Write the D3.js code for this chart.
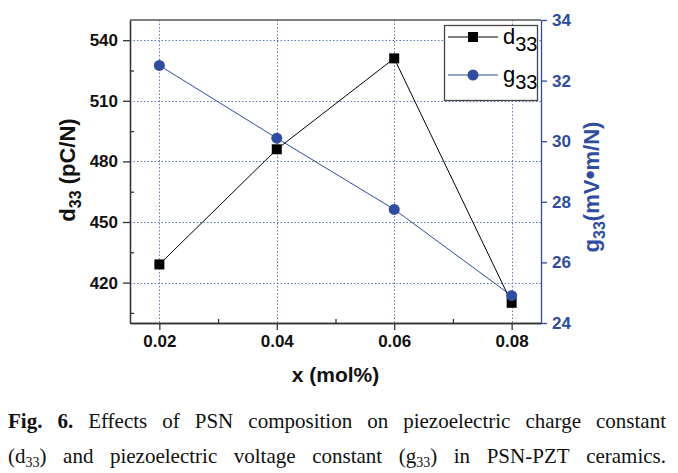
<!DOCTYPE html>
<html><head><meta charset="utf-8">
<script src="https://cdn.jsdelivr.net/npm/d3@7"></script>
<style>
body{margin:0;background:#fff;}
svg{display:block;font-family:"Liberation Sans",Arial,sans-serif;}
</style></head>
<body>
<svg id="chart" width="678" height="473"></svg>
<script>
// ---- data ----
const xValues = [0.02, 0.04, 0.06, 0.08];
const d33Values = [429, 486, 531, 410];
const g33Values = [32.5, 30.1, 27.75, 24.9];
const xTicks = [0.02, 0.04, 0.06, 0.08];
const xMinorTicks = [0.03, 0.05, 0.07];
const leftTicks = [420, 450, 480, 510, 540];
const leftMinorTicks = [405, 435, 465, 495, 525];
const rightTicks = [24, 26, 28, 30, 32, 34];

const BLUE = "#2f4c9e";
const GRID = "#5a78bb";
const svg = d3.select("#chart");
const L = 130, R = 541, T = 20, B = 323;

const x = d3.scaleLinear().domain([0.015, 0.085]).range([L, R]);
const yL = d3.scaleLinear().domain([400, 550]).range([B, T]);
const yR = d3.scaleLinear().domain([24, 34]).range([B, T]);

// grid
const grid = svg.append("g").attr("stroke", GRID).attr("stroke-width", 1).attr("stroke-dasharray", "1.5,2");
grid.selectAll("line.v").data(xTicks).join("line")
  .attr("x1", d => Math.round(x(d)) + 0.5).attr("x2", d => Math.round(x(d)) + 0.5)
  .attr("y1", T).attr("y2", B);
grid.selectAll("line.h").data(leftTicks).join("line")
  .attr("y1", d => Math.round(yL(d)) + 0.5).attr("y2", d => Math.round(yL(d)) + 0.5)
  .attr("x1", L).attr("x2", R);

// axes
const fmtX = d3.format(".2f");
const gx = svg.append("g").attr("transform", `translate(0,${B})`)
  .call(d3.axisBottom(x).tickValues(xTicks).tickFormat(fmtX).tickSize(7).tickSizeOuter(0).tickPadding(5));
const gxm = svg.append("g").attr("transform", `translate(0,${B})`)
  .call(d3.axisBottom(x).tickValues(xMinorTicks).tickFormat("").tickSize(-4).tickSizeOuter(0));
const gl = svg.append("g").attr("transform", `translate(${L},0)`)
  .call(d3.axisLeft(yL).tickValues(leftTicks).tickSize(7).tickSizeOuter(0).tickPadding(5));
const glm = svg.append("g").attr("transform", `translate(${L},0)`)
  .call(d3.axisLeft(yL).tickValues(leftMinorTicks).tickFormat("").tickSize(-4).tickSizeOuter(0));
const gr = svg.append("g").attr("transform", `translate(${R},0)`)
  .call(d3.axisRight(yR).tickValues(rightTicks).tickSize(6).tickSizeOuter(0).tickPadding(5));

[gx, gxm, gl, glm].forEach(g => {
  g.selectAll("path,line").attr("stroke", "#333").attr("stroke-width", 1.3);
  g.selectAll("text").attr("fill", "#111").attr("font-size", 17).attr("font-weight", "bold")
    .attr("font-family", "'Liberation Sans',Arial,sans-serif");
});
gr.selectAll("path,line").attr("stroke", BLUE).attr("stroke-width", 1.3);
gr.selectAll("text").attr("fill", BLUE).attr("font-size", 17).attr("font-weight", "bold")
  .attr("font-family", "'Liberation Sans',Arial,sans-serif");

// top frame
svg.append("line").attr("x1", L).attr("x2", R).attr("y1", T).attr("y2", T)
  .attr("stroke", "#555").attr("stroke-width", 1.3);

// lines
const lineL = d3.line().x((d, i) => x(xValues[i])).y(d => yL(d));
const lineR = d3.line().x((d, i) => x(xValues[i])).y(d => yR(d));
svg.append("path").datum(g33Values).attr("d", lineR).attr("fill", "none").attr("stroke", BLUE).attr("stroke-width", 1);
svg.append("path").datum(d33Values).attr("d", lineL).attr("fill", "none").attr("stroke", "#000").attr("stroke-width", 1);

// markers
const S = 10;
svg.append("g").selectAll("rect").data(d33Values).join("rect")
  .attr("x", (d, i) => x(xValues[i]) - S / 2).attr("y", d => yL(d) - S / 2)
  .attr("width", S).attr("height", S).attr("fill", "#000");
svg.append("g").selectAll("circle").data(g33Values).join("circle")
  .attr("cx", (d, i) => x(xValues[i])).attr("cy", d => yR(d)).attr("r", 5.5).attr("fill", BLUE);

// axis titles
const tl = svg.append("text").attr("transform", "translate(75,170) rotate(-90)")
  .attr("text-anchor", "middle").attr("font-size", 22).attr("font-weight", "bold").attr("fill", "#111");
tl.append("tspan").text("d");
tl.append("tspan").attr("font-size", 16).attr("dy", 6).text("33");
tl.append("tspan").attr("dy", -6).text(" (pC/N)");

const tr = svg.append("text").attr("transform", "translate(599,187) rotate(-90)")
  .attr("text-anchor", "middle").attr("font-size", 22).attr("font-weight", "bold").attr("fill", BLUE);
tr.append("tspan").text("g");
tr.append("tspan").attr("font-size", 16).attr("dy", 6).text("33");
tr.append("tspan").attr("dy", -6).text("(mV");
tr.append("tspan").attr("font-size", 26).text("\u2022");
tr.append("tspan").text("m/N)");

svg.append("text").attr("x", x(0.05)).attr("y", 382).attr("text-anchor", "middle")
  .attr("font-size", 21).attr("font-weight", "bold").attr("fill", "#111").text("x (mol%)");

// legend
const lg = svg.append("g");
lg.append("rect").attr("x", 444.5).attr("y", 25.5).attr("width", 93).attr("height", 75)
  .attr("fill", "#fff").attr("stroke", "#444").attr("stroke-width", 1.3);
const legItems = [
  {name: "d", color: "#000", shape: "rect", y: 37},
  {name: "g", color: BLUE, shape: "circle", y: 75}
];
legItems.forEach(it => {
  lg.append("line").attr("x1", 448).attr("x2", 498).attr("y1", it.y).attr("y2", it.y)
    .attr("stroke", it.color).attr("stroke-width", 1);
  if (it.shape === "rect") {
    lg.append("rect").attr("x", 473 - 5).attr("y", it.y - 5).attr("width", 10).attr("height", 10).attr("fill", it.color);
  } else {
    lg.append("circle").attr("cx", 473).attr("cy", it.y).attr("r", 5.5).attr("fill", it.color);
  }
  const t = lg.append("text").attr("x", 503).attr("y", it.y + 7).attr("font-size", 22)
    .attr("font-weight", 500).attr("fill", "#000");
  t.append("tspan").text(it.name);
  t.append("tspan").attr("font-size", 20).attr("dy", 7).text("33");
});

// caption (justified)
const capLines = [
  {y: 428, words: [
    [{t: "Fig.", b: true}], [{t: "6.", b: true}], [{t: "Effects"}], [{t: "of"}], [{t: "PSN"}],
    [{t: "composition"}], [{t: "on"}], [{t: "piezoelectric"}], [{t: "charge"}], [{t: "constant"}]
  ]},
  {y: 463, words: [
    [{t: "(d"}, {t: "33", s: true}, {t: ")"}], [{t: "and"}], [{t: "piezoelectric"}], [{t: "voltage"}],
    [{t: "constant"}], [{t: "(g"}, {t: "33", s: true}, {t: ")"}], [{t: "in"}], [{t: "PSN-PZT"}], [{t: "ceramics."}]
  ]}
];
const cx0 = 8, cx1 = 666;
capLines.forEach(line => {
  const nodes = line.words.map(w => {
    const t = svg.append("text").attr("y", line.y).attr("font-family", "'Liberation Serif','Times New Roman',serif")
      .attr("font-size", 21).attr("fill", "#111");
    let shifted = false;
    w.forEach(seg => {
      const sp = t.append("tspan").text(seg.t);
      if (seg.b) sp.attr("font-weight", "bold");
      if (seg.s) { sp.attr("font-size", 14).attr("dy", 4); shifted = true; }
      else if (shifted) { sp.attr("dy", -4); shifted = false; }
    });
    return t;
  });
  const widths = nodes.map(n => n.node().getComputedTextLength());
  const total = d3.sum(widths);
  const gap = (cx1 - cx0 - total) / (nodes.length - 1);
  let cx = cx0;
  nodes.forEach((n, i) => { n.attr("x", cx); cx += widths[i] + gap; });
});
</script>
</body></html>
